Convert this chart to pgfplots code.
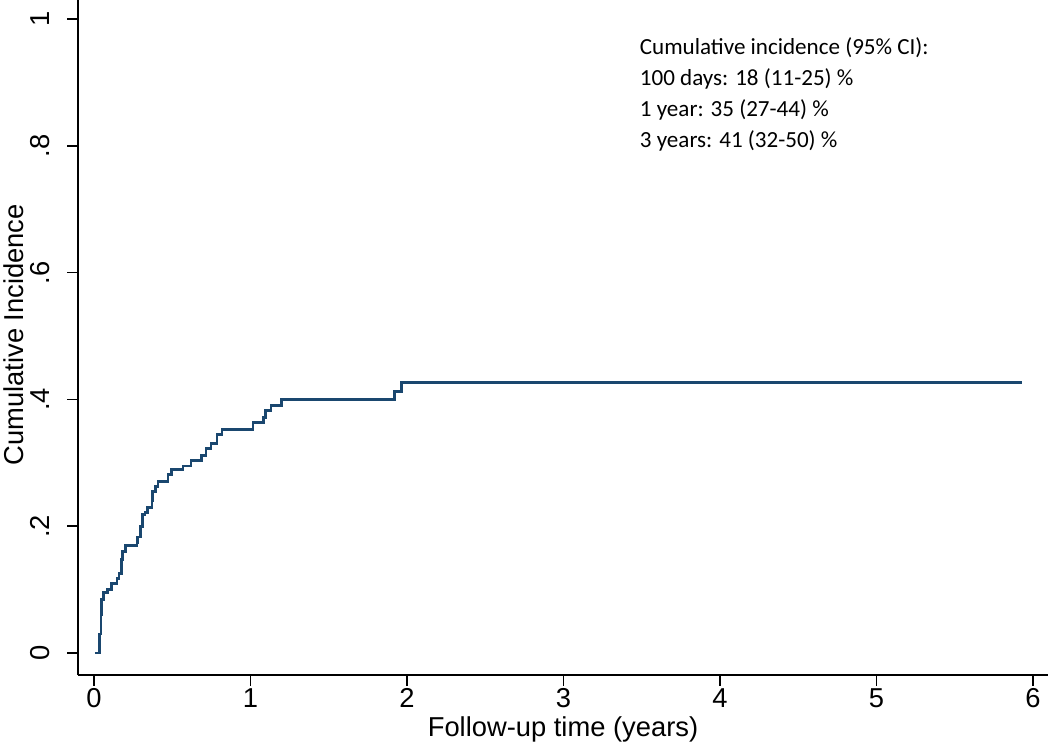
\documentclass[border=0pt]{standalone}
\usepackage{pgfplots}
\pgfplotsset{compat=1.18}
\usepackage{fontspec}
\setmainfont{Liberation Sans}
\newfontfamily\calib{Carlito}
\definecolor{stnavy}{HTML}{1A476F}
\begin{document}
\begin{tikzpicture}
\useasboundingbox (-58.5pt,-51pt) rectangle (729pt,506.25pt);
\begin{axis}[
  at={(0pt,0pt)}, anchor=south west,
  scale only axis,
  width=727.5pt, height=506.25pt,
  xmin=-0.102, xmax=6.096, ymin=-0.0347, ymax=1.03,
  axis x line=bottom, axis y line=left,
  axis line style={-, line width=1.4pt, black},
  tick style={line width=1.2pt, black},
  tick align=outside, major tick length=8pt,
  xtick={0,1,2,3,4,5,6},
  ytick={0,0.2,0.4,0.6,0.8,1},
  yticklabels={0,.2,.4,.6,.8,1},
  /pgf/number format/assume math mode=true,
  ticklabel style={font=\fontsize{20.5}{24}\selectfont},
  yticklabel style={rotate=90, anchor=south, inner sep=0pt, yshift=13pt},
  xticklabel style={inner sep=0pt, yshift=-2pt},
  xlabel={Follow-up time (years)},
  ylabel={Cumulative Incidence},
  label style={font=\fontsize{20.5}{24}\selectfont},
  xlabel style={at={(rel axis cs:0.5,0)}, anchor=center, inner sep=0pt, yshift=-41pt},
  ylabel style={at={(rel axis cs:0,0.504)}, anchor=center, inner sep=0pt, yshift=48pt},
  clip=false,
]
\addplot[const plot, color=stnavy, line width=2.2pt] coordinates {
(0.006,0) (0.038,0.03) (0.045,0.06) (0.051,0.085) (0.058,0.095)
(0.089,0.100) (0.115,0.110) (0.147,0.117) (0.160,0.126) (0.173,0.147)
(0.185,0.160) (0.204,0.169) (0.275,0.175) (0.281,0.183) (0.300,0.199)
(0.313,0.219) (0.326,0.222) (0.345,0.229) (0.371,0.241) (0.377,0.255)
(0.396,0.262) (0.409,0.271) (0.473,0.281) (0.498,0.289) (0.569,0.295)
(0.620,0.304) (0.690,0.312) (0.716,0.322) (0.748,0.330) (0.786,0.345)
(0.818,0.353) (1.016,0.363) (1.086,0.372) (1.099,0.382) (1.131,0.391)
(1.201,0.400) (1.923,0.413) (1.968,0.426) (5.930,0.426)
};
\node[anchor=north west, inner sep=0pt, align=left,
      font=\calib\fontsize{17.3}{23.2}\selectfont]
  at (rel axis cs:0.579,0.944)
  {Cumulative incidence (95\% CI):\\100 days: 18 (11-25) \%\\1 year: 35 (27-44) \%\\3 years: 41 (32-50) \%};
\end{axis}
\end{tikzpicture}
\end{document}
